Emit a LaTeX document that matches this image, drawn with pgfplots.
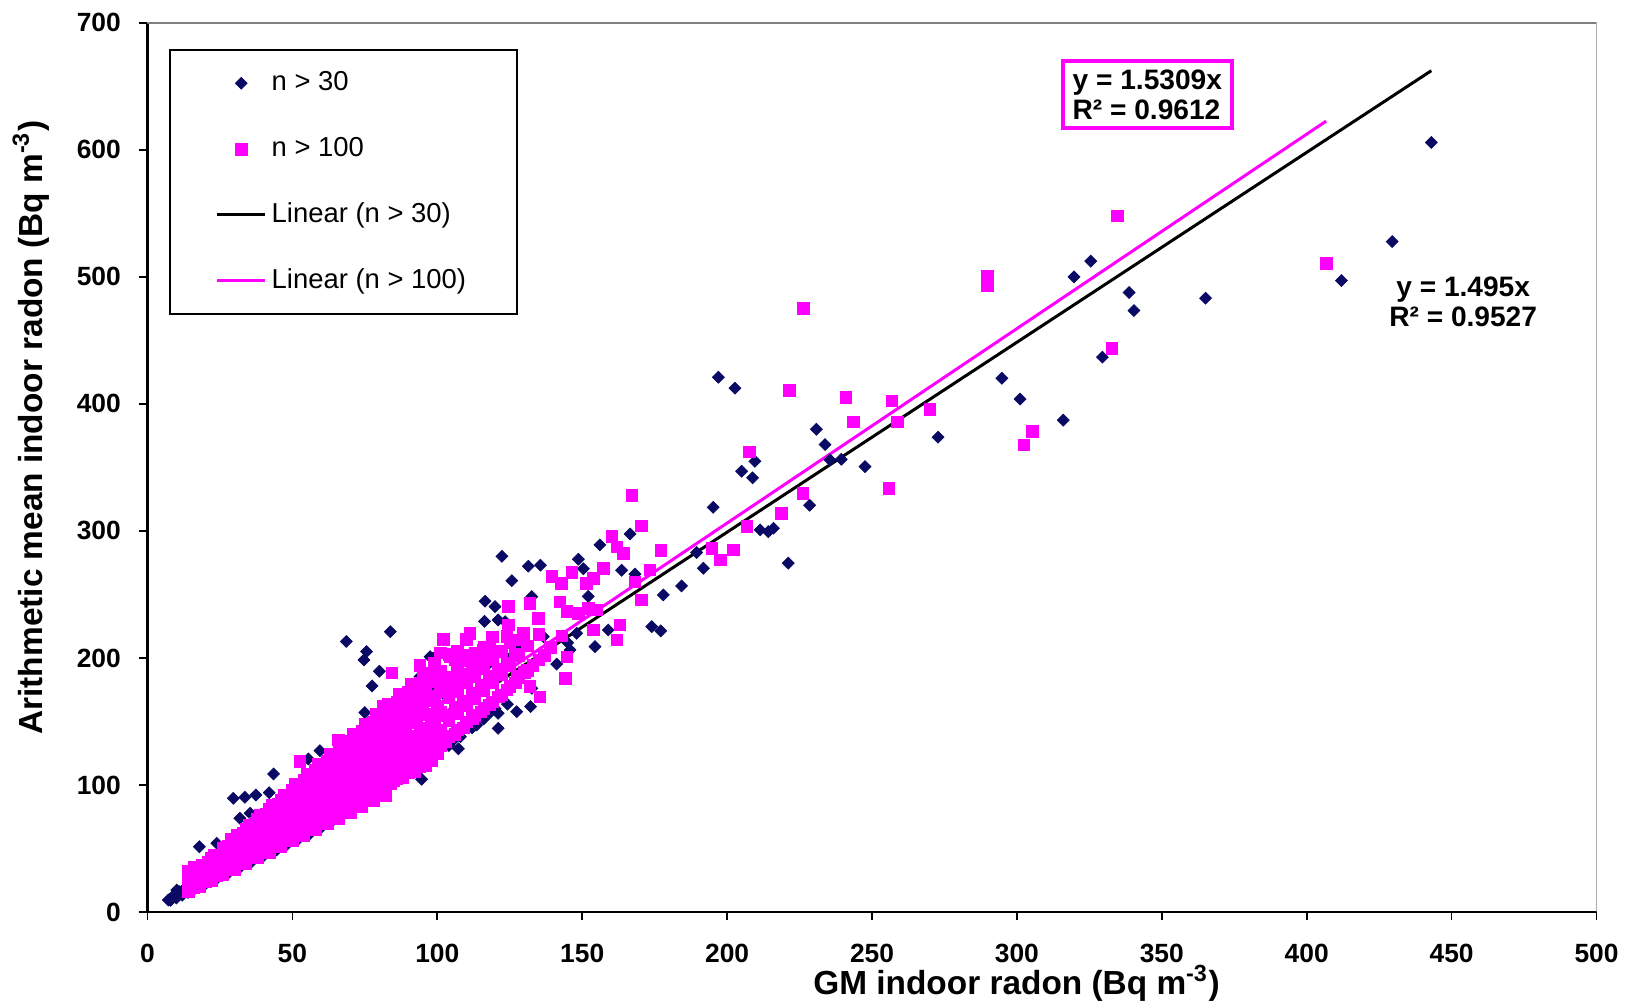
\documentclass[border=0pt]{standalone}
\usepackage{pgfplots}
\pgfplotsset{compat=1.18}
\usepackage{fontspec}
\setmainfont{Liberation Sans}
\definecolor{navy}{RGB}{10,10,100}
\definecolor{mag}{RGB}{255,0,255}
\pgfplotsset{
  mylinelegend/.style={legend image code/.code={\draw[##1] (0mm,0mm) -- (4.8mm,0mm);}},
  mymarklegend/.style={legend image code/.code={\draw[mark repeat=2,mark phase=2,##1] plot coordinates {(0mm,0mm) (2.4mm,0mm) (4.8mm,0mm)};}},
}
\begin{document}
\begin{tikzpicture}
\begin{axis}[
  name=ax,
  scale only axis,
  width=144.9mm, height=88.92mm,
  xmin=0, xmax=500, ymin=0, ymax=700,
  xtick={0,50,...,500}, ytick={0,100,...,700},
  axis x line*=bottom, axis y line*=left,
  axis line style={-, black, line width=0.6pt},
  tick align=outside,
  major tick length=0.85mm,
  tick style={black, line width=0.5pt},
  /pgf/number format/assume math mode=true,
  ticklabel style={font=\fontsize{7.5}{8}\selectfont\bfseries, inner sep=0pt},
  xticklabel style={yshift=-2.25mm},
  yticklabel style={xshift=-1.75mm},
  xlabel={GM indoor radon (Bq m\textsuperscript{-3})},
  ylabel={Arithmetic mean indoor radon (Bq m\textsuperscript{-3})},
  label style={font=\fontsize{9.5}{11}\selectfont\bfseries, inner sep=0pt},
  xlabel style={at={(axis description cs:0.5998,-0.0805)}, anchor=center},
  ylabel style={at={(axis description cs:-0.0804,0.545)}, anchor=center},
  legend style={at={(axis description cs:0.01463,0.9705)}, anchor=north west,
    draw=black, line width=0.6pt, inner xsep=4.6mm, inner ysep=2.0mm, row sep=3.95mm,
    font=\fontsize{7.8}{9}\selectfont,
    nodes={inner xsep=0.5mm, inner ysep=0pt, text height=5.8pt, text depth=1.7pt}},
  legend cell align=left,
]
% n > 30
\addplot[only marks, mark=square*, mark size=1.2pt, mark options={rotate=45, fill=navy, draw=navy, line width=0.2pt}, mymarklegend] table {
x y
8 9.2
10 11
12 13.2
14 15.4
16 17.6
18 19.8
20 22
24 26.4
28 30.8
32 35.2
36 39.6
40 44
44 48.4
48 52.8
52 57.2
56 61.6
60 66.6
64 72
68 77.5
72 83
76 89
80 95
84 101
88 106.5
92 112.2
96 118
100 124
104 131
108 138
112 145
116 152
120 160
9 13
11 16
13 19
15 22
17 26
19 29
22 33
26 38
30 46
34 55
38 62
42 68
46 75
50 80
54 88
58 96
62 102
66 110
70 118
74 124
78 132
82 140
86 146
90 152
94 160
98 166
102 172
106 178
110 186
114 190
118 196
124 200
128 208
7.2 9.4
10.1 17.3
17.9 51.4
23.9 54.1
29.6 89.5
31.9 73.8
33.6 90.3
35.4 77.7
37.4 92.1
42 93.9
43.5 108.7
44.6 48.8
55.5 120.5
56.1 62
59.5 127
68.6 213
74.7 198.4
75 157
75.6 205
77.2 96
77.5 178
80 189.5
83.8 220.7
89.4 109.2
94 185.3
94.6 104.5
97.5 201
98.6 199.8
97.5 177.4
105.2 134.6
107.3 128.5
113.6 147.2
116.3 228.8
116.5 244.7
118.2 157
119.9 240.4
121 229.9
121 156.4
121 144.6
122.3 280
123.4 228.6
124.2 163.6
125.7 260.8
127.4 157.7
131.4 272.2
132.2 161.7
132.6 248.3
132.6 176.1
135.6 273
136.6 216.8
141.2 195.2
145 212
145.8 206.3
148.1 219.4
148.7 277.7
150.4 270.2
152.1 248.5
154.4 208.9
156.1 289
159 222
163.6 269
166.5 297.6
168.2 266
174 224.7
177.1 221.3
178 249.6
184.3 256.7
189.5 283
191.8 270.6
195.2 318.6
197 421
202.7 412.4
205 347
208.8 341.8
209.6 354.8
211.4 300.8
214.2 299.4
216 302.1
221.1 274.6
228.5 320.2
230.8 380
233.8 368
235.5 356
239.4 356.4
247.6 350.6
272.8 373.8
294.8 420.2
301.1 403.8
316 387.2
319.7 500
325.5 512.4
329.5 436.8
338.7 487.7
340.4 473.5
365.1 483.2
412 497.1
429.5 527.8
443 605.8
};
\addlegendentry{n > 30}
% n > 100
\addplot[only marks, mark=square*, mark size=1.65pt, mark options={fill=mag, draw=mag, line width=0.2pt}, mymarklegend] table {
x y
14 15.7
14 18.5
14 21.3
14 24.1
14 26.9
14 32
15 19.5
15 24.8
15 30
16 19.2
16 22.7
16 25.9
16 29.4
16 35.2
17 20.4
17 26.4
17 32.3
18 20.2
18 23.8
18 27.4
18 31
18 34.6
19 24.7
19 31.4
19 37
20 24
20 28.4
20 32.4
20 36.8
21 25.2
21 32.6
21 38.9
22 24.6
22 29
22 33.4
22 37.8
22 42.2
23 29.9
23 38
23 44.9
24 28.8
24 34.1
24 38.9
24 44.2
25 30
25 35
25 40
25 45
26 29.1
26 34.3
26 39.5
26 44.7
26 49.9
27 34.6
27 40
27 45.4
27 50.8
28 33.6
28 39.8
28 45.4
28 51.5
29 34.2
29 40
29 45.8
29 51.6
29 57.4
30 33.6
30 39.6
30 45.6
30 51.6
30 57.6
31 38.8
31 44
31 49.6
31 55.2
31 60.5
32 38.4
32 45.4
32 51.8
32 58.9
33 39.6
33 45.2
33 50.8
33 56.4
33 62
34 38.1
34 44.9
34 51.7
34 58.5
34 65.3
35 43.8
35 49.7
35 56
35 62.3
35 68.3
36 43.2
36 51.1
36 58.3
36 66.2
37 44.4
37 50.7
37 57
37 63.3
37 69.6
38 42.6
38 50.2
38 57.8
38 65.4
38 73
39 48.8
39 55.4
39 62.4
39 69.4
39 76
40 48
40 56.8
40 64.8
40 73.6
41 49.2
41 56.2
41 63.1
41 70.1
41 77.1
42 47
42 55.4
42 63.8
42 72.2
42 80.6
43 53.8
43 61.1
43 68.8
43 76.5
43 83.9
44 52.8
44 62.5
44 71.3
44 81
45 54
45 61.7
45 69.3
45 77
45 84.6
46 51.5
46 60.7
46 69.9
46 79.1
46 88.3
47 58.8
47 66.7
47 75.2
47 83.7
47 91.7
48 57.6
48 68.2
48 77.8
48 88.3
49 58.8
49 67.1
49 75.5
49 83.8
49 92.1
50 56
50 66
50 76
50 86
50 96
51 62.2
51 69.9
51 77.5
51 85.2
51 92.8
51 100.5
52 62.4
52 73.8
52 84.2
52 95.7
53 62.5
53 68.9
53 76.9
53 84.8
53 92.8
53 100.7
54 60.5
54 71.3
54 82.1
54 92.9
54 103.7
55 67.1
55 75.4
55 83.6
55 91.9
55 100.1
55 108.4
56 67.2
56 79.5
56 90.7
56 103
57 67.3
57 74.1
57 82.7
57 91.2
57 99.8
57 108.3
58 65
58 76.6
58 88.2
58 99.8
58 111.4
59 72
59 80.8
59 89.7
59 98.5
59 107.4
59 116.2
60 72
60 85.2
60 97.2
60 110.4
61 72
61 79.3
61 88.5
61 97.6
61 106.8
61 115.9
62 69.4
62 81.8
62 94.2
62 106.6
62 119
63 76.9
63 86.3
63 95.8
63 105.2
63 114.7
63 124.1
64 76.8
64 90.9
64 103.7
64 117.8
65 76.7
65 84.5
65 94.3
65 104
65 113.8
65 123.5
66 73.9
66 87.1
66 100.3
66 113.5
66 126.7
67 81.7
67 91.8
67 101.8
67 111.9
67 121.9
67 132
68 81.6
68 96.6
68 110.2
68 125.1
69 81.4
69 89.7
69 100.1
69 110.4
69 120.8
69 131.1
70 78.4
70 92.4
70 106.4
70 120.4
70 134.4
71 86.6
71 97.3
71 107.9
71 118.6
71 129.2
71 139.9
72 86.4
72 102.2
72 116.6
72 132.5
73 86.1
73 94.9
73 105.9
73 116.8
73 127.8
73 138.7
74 82.9
74 97.7
74 112.5
74 127.3
74 142.1
75 91.5
75 102.8
75 114
75 125.3
75 136.5
75 147.8
76 91.2
76 107.9
76 123.1
76 139.8
77 92.4
77 100.1
77 111.7
77 123.2
77 134.8
77 146.3
78 87.4
78 103
78 118.6
78 134.2
78 149.8
79 96.4
79 108.2
79 120.1
79 131.9
79 143.8
79 155.6
80 96
80 113.6
80 129.6
80 147.2
81 97.2
81 105.3
81 117.5
81 129.6
81 141.8
81 153.9
82 91.8
82 108.2
82 124.6
82 141
82 157.4
83 102.9
83 113.7
83 126.2
83 138.6
83 151.1
83 163.5
84 100.8
84 119.3
84 136.1
84 154.6
85 103.7
85 112.2
85 123.3
85 136
85 148.8
85 161.5
86 104.9
86 113.5
86 130.7
86 147.9
86 165.1
87 109.6
87 120.1
87 132.2
87 145.3
87 158.3
87 171.4
88 105.6
88 125
88 142.6
88 161.9
89 110.4
89 118.4
89 129.9
89 142.4
89 155.8
89 169.1
90 109.8
90 118.8
90 136.8
90 154.8
90 172.8
91 115.6
91 125.6
91 138.3
91 152
91 165.6
91 179.3
92 110.4
92 130.6
92 149
92 169.3
93 116.3
93 123.7
93 135.8
93 148.8
93 162.8
93 176.7
94 114.7
94 124.1
94 142.9
94 161.7
94 180.5
95 121.6
95 132.1
95 144.4
95 158.7
95 172.9
95 187.2
96 115.2
96 136.3
96 155.5
96 176.6
97 122.2
97 130
97 141.6
97 155.2
97 169.8
97 184.3
98 119.6
98 129.4
98 149
98 168.6
98 188.2
99 127.7
99 138.6
99 151.5
99 166.3
99 181.2
99 196
100 125
100 142
100 162
100 184
101 131.3
101 143.4
101 157.6
101 173.7
101 189.9
101 204
103 133.9
103 154.5
103 175.1
104 138.3
104 150.8
104 168.5
104 185.1
104 202.8
106 140
106 161.1
106 182.3
106 199
107 143.4
107 156.2
107 173.3
107 190.5
107 205.4
109 145
109 165.7
109 187.5
110 149.6
110 162.8
110 180.4
110 198
110 214.5
112 152.3
112 172.5
112 194.9
113 154.8
113 168.4
113 185.3
113 203.4
115 157.6
115 178.3
115 200
116 160.1
116 174
116 191.4
116 208.8
118 163
118 185.3
118 208
119 165.4
119 180.9
119 198.7
119 216.6
121 169.4
121 191.2
122 170.8
122 186.7
122 205
124 175
124 196
125 177.5
125 193.8
125 212.5
127 180.3
127 203
128 184.3
128 202.2
130 188.5
131 190
131 209.6
133 194
135 198.5
135 218.7
137 202
139 208.5
143 217.4
52.6 118.4
65.8 135.4
81.4 161.7
84.3 188.4
86 164.3
91.7 177.4
94 194
102.1 214.5
102.1 180
104.4 201
106.7 180
109 202.4
111.3 219.4
113.6 203.7
115.9 206.3
124 216.8
124.5 226
124.5 240.4
127.4 214.2
127.4 185.3
129.7 219.4
132 243
132 177.4
134.9 231.3
135.4 169.5
139.5 264
142.3 244.3
142.9 258.8
144.1 184
144.7 201
144.7 236.5
146.4 267.2
148.7 235.2
151.5 258.8
152.1 239.1
153.8 262.7
153.8 222
155 237.8
157.3 270.6
160.2 295.5
161.9 287.6
161.9 214.2
163 226
164.2 282.4
167.1 327.8
168.2 260
170.5 245.7
170.5 303.9
173.4 269.3
177.1 284.5
194.7 286.4
197.6 277.2
202.1 285
206.8 303.4
207.7 362.4
218.8 313.9
221.5 410.5
226.2 329.8
226.4 475.3
241 405
243.6 385.9
255.8 333.3
256.8 402.4
258.8 385.8
270 395.8
289.9 500.3
289.9 492.9
302.4 367.7
305.3 378.2
332.8 443.5
334.7 548
406.7 510.8
};
\addlegendentry{n > 100}
\addplot[black, line width=0.85pt, mylinelegend] coordinates {(7.2,10.76) (443,662.3)};
\addlegendentry{Linear (n > 30)}
\addplot[mag, line width=0.85pt, mylinelegend] coordinates {(14,21.43) (406.7,622.6)};
\addlegendentry{Linear (n > 100)}
\draw[gray, line width=0.5pt] (rel axis cs:0,1) -- (rel axis cs:1,1) -- (rel axis cs:1,0);
\node[draw=mag, line width=1.1pt, fill=white, align=left, inner xsep=2.8pt, inner ysep=2.4pt,
  font=\fontsize{8}{8.5}\selectfont\bfseries] at (axis cs:345,643.5) {y = 1.5309x\\R² = 0.9612};
\node[align=center, inner sep=0pt, font=\fontsize{8}{8.5}\selectfont\bfseries] at (axis cs:454,480.6) {y = 1.495x\\R² = 0.9527};
\end{axis}
\pgfresetboundingbox
\path (ax.south west) ++(-14.75mm,-9.6mm) rectangle ++(162.5mm,100.8mm);
\end{tikzpicture}
\end{document}
